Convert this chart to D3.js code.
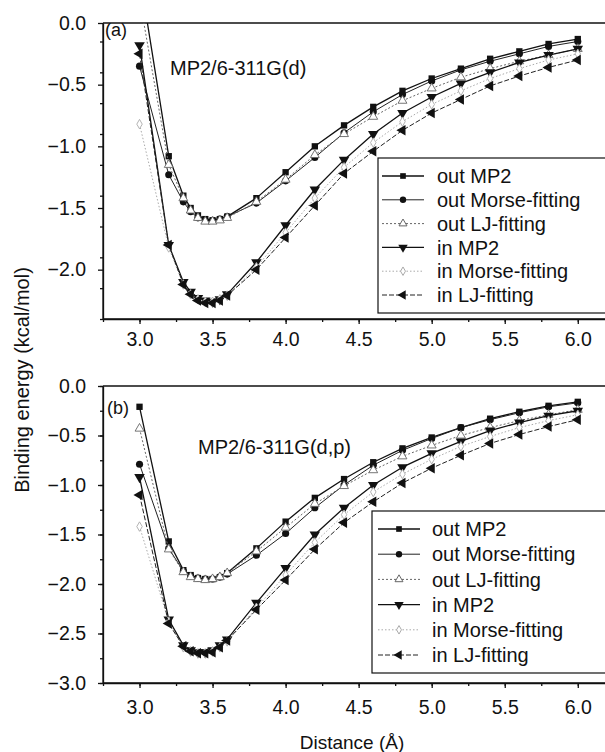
<html>
<head>
  <meta charset="utf-8">
  <style>
    body { margin: 0; background: #fff; }
    svg text { font-family: "Liberation Sans", Arial, Helvetica, sans-serif; fill: #111; }
    svg .axis path, svg .axis line { stroke: #111; stroke-width: 1.3px; }
    svg .series { fill: none; stroke-linejoin: round; }
  </style>
</head>
<body>
  <div id="chart"></div>
  <script src="https://d3js.org/d3.v7.min.js"></script>
  <script>
(function () {
  // distances (Angstrom) at which every curve is sampled
  var distance = [3.0, 3.2, 3.3, 3.35, 3.4, 3.45, 3.5, 3.55, 3.6, 3.8, 4.0, 4.2, 4.4, 4.6, 4.8, 5.0, 5.2, 5.4, 5.6, 5.8, 6.0];

  // panel (a) MP2/6-311G(d)
  var aOutMP2   = [0.40, -1.08, -1.40, -1.50, -1.56, -1.59, -1.60, -1.59, -1.57, -1.42, -1.21, -1.00, -0.83, -0.68, -0.55, -0.45, -0.37, -0.29, -0.23, -0.17, -0.13];
  var aOutMorse = [-0.35, -1.23, -1.45, -1.53, -1.58, -1.60, -1.60, -1.59, -1.57, -1.46, -1.28, -1.09, -0.89, -0.72, -0.58, -0.47, -0.38, -0.31, -0.25, -0.19, -0.15];
  var aOutLJ    = [0.20, -1.15, -1.42, -1.52, -1.58, -1.61, -1.61, -1.60, -1.58, -1.45, -1.27, -1.07, -0.90, -0.76, -0.63, -0.53, -0.44, -0.37, -0.31, -0.26, -0.21];
  var aInMP2    = [-0.18, -1.80, -2.10, -2.18, -2.23, -2.25, -2.26, -2.24, -2.20, -1.94, -1.64, -1.35, -1.11, -0.90, -0.73, -0.60, -0.49, -0.40, -0.32, -0.26, -0.21];
  var aInMorse  = [-0.82, -1.82, -2.12, -2.20, -2.24, -2.26, -2.26, -2.24, -2.21, -1.98, -1.70, -1.42, -1.17, -0.97, -0.80, -0.66, -0.55, -0.45, -0.37, -0.30, -0.25];
  var aInLJ     = [-0.25, -1.80, -2.12, -2.20, -2.25, -2.27, -2.27, -2.25, -2.21, -2.00, -1.74, -1.48, -1.22, -1.04, -0.87, -0.73, -0.62, -0.51, -0.43, -0.36, -0.30];

  // panel (b) MP2/6-311G(d,p)
  var bOutMP2   = [-0.21, -1.57, -1.86, -1.91, -1.94, -1.95, -1.95, -1.93, -1.89, -1.64, -1.37, -1.13, -0.94, -0.77, -0.63, -0.52, -0.42, -0.33, -0.26, -0.20, -0.16];
  var bOutMorse = [-0.79, -1.64, -1.87, -1.92, -1.94, -1.95, -1.95, -1.93, -1.90, -1.71, -1.49, -1.23, -1.00, -0.80, -0.65, -0.53, -0.42, -0.34, -0.27, -0.21, -0.17];
  var bOutLJ    = [-0.43, -1.65, -1.88, -1.93, -1.95, -1.96, -1.95, -1.93, -1.89, -1.67, -1.43, -1.19, -1.01, -0.85, -0.71, -0.60, -0.50, -0.42, -0.35, -0.29, -0.24];
  var bInMP2    = [-0.92, -2.36, -2.62, -2.67, -2.69, -2.69, -2.67, -2.62, -2.56, -2.19, -1.84, -1.50, -1.23, -1.00, -0.82, -0.68, -0.56, -0.45, -0.37, -0.30, -0.25];
  var bInMorse  = [-1.42, -2.38, -2.64, -2.68, -2.70, -2.70, -2.68, -2.64, -2.58, -2.24, -1.91, -1.58, -1.30, -1.07, -0.89, -0.74, -0.61, -0.51, -0.42, -0.35, -0.29];
  var bInLJ     = [-1.10, -2.40, -2.63, -2.68, -2.70, -2.70, -2.69, -2.64, -2.57, -2.26, -1.96, -1.65, -1.38, -1.17, -0.98, -0.83, -0.70, -0.58, -0.49, -0.41, -0.34];

  var seriesNames = ["out MP2", "out Morse-fitting", "out LJ-fitting", "in MP2", "in Morse-fitting", "in LJ-fitting"];
  var xTicks = [3.0, 3.5, 4.0, 4.5, 5.0, 5.5, 6.0];
  var aYTicks = [0.0, -0.5, -1.0, -1.5, -2.0];
  var bYTicks = [0.0, -0.5, -1.0, -1.5, -2.0, -2.5, -3.0];

  // how each series looks (marker symbol, fill, dash)
  var styles = [
    { sym: d3.symbolSquare,   size: 40, fill: "#111", stroke: "#111", dash: null,  width: 1.3, rot: 0 },
    { sym: d3.symbolCircle,   size: 40, fill: "#111", stroke: "#222", dash: null,  width: 1.0, rot: 0 },
    { sym: d3.symbolTriangle, size: 34, fill: "#fff", stroke: "#666", dash: "2,2", width: 1.0, rot: 0 },
    { sym: d3.symbolTriangle, size: 48, fill: "#111", stroke: "#111", dash: null,  width: 1.3, rot: 180 },
    { sym: d3.symbolDiamond,  size: 26, fill: "#fff", stroke: "#aaa", dash: "1.5,2", width: 1.0, rot: 0 },
    { sym: d3.symbolTriangle, size: 48, fill: "#111", stroke: "#222", dash: "5,2", width: 1.0, rot: -90 }
  ];

  var W = 605, H = 752;
  var svg = d3.select("#chart").append("svg")
      .attr("width", W)
      .attr("height", H);

  var left = 103, right = 607;
  var xScale = d3.scaleLinear().domain([2.75, 6.2]).range([left, right]);
  var fmt = d3.format(".1f");

  var panels = [
    { id: "a", top: 23,  bottom: 319, ymin: -2.4, yTicks: aYTicks, tag: "(a)", title: "MP2/6-311G(d)",
      titleX: 170, titleY: 75, tagX: 105, tagY: 36, labelDy: 28,
      legend: { x: 378, y: 158, h: 155, lineX: 382, textX: 437 },
      series: [aOutMP2, aOutMorse, aOutLJ, aInMP2, aInMorse, aInLJ] },
    { id: "b", top: 386, bottom: 683, ymin: -3.0, yTicks: bYTicks, tag: "(b)", title: "MP2/6-311G(d,p)",
      titleX: 198, titleY: 454, tagX: 107, tagY: 414, labelDy: 32,
      legend: { x: 372, y: 511, h: 162, lineX: 378, textX: 432 },
      series: [bOutMP2, bOutMorse, bOutLJ, bInMP2, bInMorse, bInLJ] }
  ];

  panels.forEach(function (p) {
    var yScale = d3.scaleLinear().domain([p.ymin, 0]).range([p.bottom, p.top]);
    var g = svg.append("g");

    g.append("clipPath").attr("id", "clip-" + p.id)
      .append("rect")
        .attr("x", left).attr("y", p.top)
        .attr("width", right - left).attr("height", p.bottom - p.top);

    // minor ticks every 0.25
    var xMinor = d3.range(2.75, 6.21, 0.25);
    var yMinor = d3.range(p.ymin, 0.001, 0.25);

    g.append("g")
        .attr("class", "axis")
        .attr("transform", "translate(0," + p.bottom + ")")
        .call(d3.axisBottom(xScale).tickValues(xMinor).tickSize(3).tickFormat("").tickSizeOuter(0));
    g.append("g")
        .attr("class", "axis")
        .attr("transform", "translate(" + left + ",0)")
        .call(d3.axisLeft(yScale).tickValues(yMinor).tickSize(3).tickFormat("").tickSizeOuter(0));

    var xa = g.append("g")
        .attr("class", "axis")
        .attr("transform", "translate(0," + p.bottom + ")")
        .call(d3.axisBottom(xScale).tickValues(xTicks).tickSize(5).tickPadding(p.labelDy - 20).tickSizeOuter(0)
          .tickFormat(fmt));
    xa.selectAll("text").style("font-size", "19.5px").attr("dy", "0.71em");
    xa.select(".domain").remove();

    var ya = g.append("g")
        .attr("class", "axis")
        .attr("transform", "translate(" + left + ",0)")
        .call(d3.axisLeft(yScale).tickValues(p.yTicks).tickSize(5).tickPadding(12).tickSizeOuter(0)
          .tickFormat(function (d) { return d === 0 ? "0.0" : "\u2212" + fmt(Math.abs(d)); }));
    ya.selectAll("text").style("font-size", "19.5px");
    ya.select(".domain").remove();

    // frame
    g.append("line").attr("x1", left).attr("x2", right).attr("y1", p.top).attr("y2", p.top)
      .attr("stroke", "#111").attr("stroke-width", 1.3);
    g.append("line").attr("x1", left).attr("x2", right).attr("y1", p.bottom).attr("y2", p.bottom)
      .attr("stroke", "#111").attr("stroke-width", 1.3);
    g.append("line").attr("x1", left).attr("x2", left).attr("y1", p.top).attr("y2", p.bottom)
      .attr("stroke", "#111").attr("stroke-width", 1.3);

    var plot = g.append("g").attr("clip-path", "url(#clip-" + p.id + ")");

    var line = d3.line()
      .x(function (d) { return xScale(d[0]); })
      .y(function (d) { return yScale(d[1]); });

    p.series.forEach(function (vals, i) {
      var st = styles[i];
      var pts = distance.map(function (x, k) { return [x, vals[k]]; });
      plot.append("path")
        .attr("class", "series")
        .attr("d", line(pts))
        .attr("stroke", st.stroke)
        .attr("stroke-width", st.width)
        .attr("stroke-dasharray", st.dash);
      plot.selectAll(null)
        .data(pts)
        .enter().append("path")
          .attr("d", d3.symbol().type(st.sym).size(st.size))
          .attr("transform", function (d) {
            return "translate(" + xScale(d[0]) + "," + yScale(d[1]) + ") rotate(" + st.rot + ")";
          })
          .attr("fill", st.fill)
          .attr("stroke", st.fill === "#fff" ? st.stroke : "none")
          .attr("stroke-width", 0.9);
    });

    // panel tag and method label
    g.append("text").attr("x", p.tagX).attr("y", p.tagY).text(p.tag).style("font-size", "18px");
    g.append("text").attr("x", p.titleX).attr("y", p.titleY).text(p.title).style("font-size", "20px");

    // legend
    var L = p.legend;
    g.append("rect")
      .attr("x", L.x).attr("y", L.y)
      .attr("width", W + 10 - L.x).attr("height", L.h)
      .attr("fill", "#fff").attr("stroke", "#111").attr("stroke-width", 1.2);
    var step = (L.h - 36) / 5;
    seriesNames.forEach(function (name, i) {
      var st = styles[i];
      var cy = L.y + 18 + i * step;
      g.append("line")
        .attr("x1", L.lineX).attr("x2", L.lineX + 42)
        .attr("y1", cy).attr("y2", cy)
        .attr("stroke", st.stroke).attr("stroke-width", st.width)
        .attr("stroke-dasharray", st.dash);
      g.append("path")
        .attr("d", d3.symbol().type(st.sym).size(st.size * 0.8))
        .attr("transform", "translate(" + (L.lineX + 21) + "," + cy + ") rotate(" + st.rot + ")")
        .attr("fill", st.fill)
        .attr("stroke", st.fill === "#fff" ? st.stroke : "none");
      g.append("text")
        .attr("x", L.textX).attr("y", cy)
        .attr("dy", "0.36em")
        .text(name)
        .style("font-size", "20px");
    });
  });

  // shared axis titles
  svg.append("text")
    .attr("transform", "translate(22," + 380 + ") rotate(-90)")
    .attr("dy", "0.36em")
    .attr("text-anchor", "middle")
    .text("Binding energy (kcal/mol)")
    .style("font-size", "20px");

  svg.append("text")
    .attr("x", 352).attr("y", 742)
    .attr("dy", "0.36em")
    .attr("text-anchor", "middle")
    .text("Distance (\u00c5)")
    .style("font-size", "19px");
})();
  </script>
</body>
</html>
